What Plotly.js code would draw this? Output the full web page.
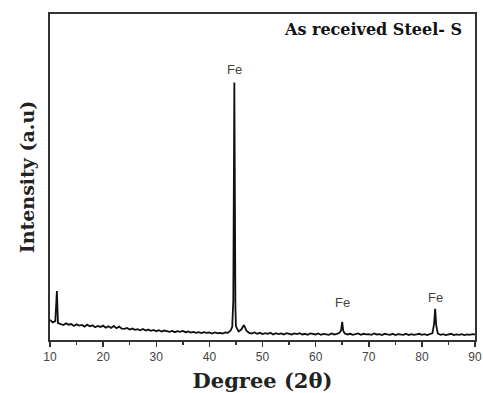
<!DOCTYPE html>
<html><head><meta charset="utf-8">
<script src="https://cdn.plot.ly/plotly-3.0.1.min.js"></script>
<style>body{margin:0;background:#fff}</style>
</head><body>
<div id="chart" style="width:483px;height:393px"></div>
<script>
const degree = [10,10.5,11,11.3,11.5,12,12.5,13,13.5,14,14.5,15,15.5,16,16.5,17,17.5,18,18.5,19,19.5,20,20.5,21,21.5,22,22.5,23,23.5,24,24.5,25,25.5,26,26.5,27,27.5,28,28.5,29,29.5,30,30.5,31,31.5,32,32.5,33,33.5,34,34.5,35,35.5,36,36.5,37,37.5,38,38.5,39,39.5,40,40.5,41,41.5,42,42.5,43,43.5,44,44.3,44.5,44.7,44.9,45,45.5,46,46.5,47,47.5,48,48.5,49,49.5,50,50.5,51,51.5,52,52.5,53,53.5,54,54.5,55,55.5,56,56.5,57,57.5,58,58.5,59,59.5,60,60.5,61,61.5,62,62.5,63,63.5,64,64.5,64.8,65,65.2,65.5,66,66.5,67,67.5,68,68.5,69,69.5,70,70.5,71,71.5,72,72.5,73,73.5,74,74.5,75,75.5,76,76.5,77,77.5,78,78.5,79,79.5,80,80.5,81,81.5,82,82.3,82.5,82.7,83,83.5,84,84.5,85,85.5,86,86.5,87,87.5,88,88.5,89,89.5,90];
const intensity = [6.2,5.4,5.8,15.0,5.2,5.0,4.6,5.1,4.7,4.9,4.3,4.8,4.4,4.6,4.1,4.7,4.2,4.5,3.9,4.3,4.0,4.4,3.8,4.2,3.7,4.3,3.6,4.1,3.5,3.4,3.7,3.2,3.5,3.1,3.3,3.0,3.4,2.9,3.2,2.8,3.1,2.7,3.0,2.6,2.9,2.7,2.5,2.8,2.4,2.7,2.5,2.8,2.4,2.6,2.3,2.5,2.2,2.4,2.1,2.4,2.2,2.3,2.0,2.3,2.1,2.2,2.0,2.3,2.2,2.9,4.0,12.0,79.0,10.0,4.2,2.6,3.2,4.6,2.8,2.2,2.0,2.3,1.9,2.2,1.8,2.1,1.9,2.2,1.7,2.1,1.8,2.0,1.7,2.1,1.9,1.7,2.0,1.8,2.1,1.7,1.9,1.6,2.0,1.8,1.7,2.0,1.6,1.9,1.8,1.6,2.0,1.7,1.9,2.2,3.0,5.6,2.8,2.0,1.7,1.9,1.6,1.8,2.0,1.6,1.9,1.7,1.8,1.6,2.0,1.7,1.8,1.5,1.9,1.7,1.6,1.9,1.5,1.8,1.7,1.6,1.9,1.5,1.8,1.6,1.7,1.9,1.6,1.8,1.5,1.7,2.1,5.0,9.6,4.5,2.0,1.6,1.8,1.5,1.7,1.9,1.5,1.7,1.6,1.8,1.5,1.7,1.6,1.8,1.7];
const peakX = [44.7, 65.0, 82.5];
const peakLabelY = [83, 11.5, 13];
const peakLabels = ["Fe", "Fe", "Fe"];
const sampleLabel = "As received Steel- S";

const serif = 'DejaVu Serif, serif';
const annotations = peakX.map((x, i) => ({
  x: x, y: peakLabelY[i], xref: 'x', yref: 'y', text: peakLabels[i], showarrow: false,
  font: {family: 'Liberation Sans, Arial, sans-serif', size: 13, color: '#444'}
}));
annotations.push({
  x: 0.975, y: 0.953, xref: 'paper', yref: 'paper', xanchor: 'right', yanchor: 'middle',
  text: '<b>' + sampleLabel + '</b>', showarrow: false,
  font: {family: serif, size: 16, color: '#111'}
});

Plotly.newPlot('chart', [{
  x: degree, y: intensity, type: 'scatter', mode: 'lines',
  line: {color: '#111', width: 1.8}, hoverinfo: 'skip'
}], {
  width: 483, height: 393,
  margin: {l: 50, r: 8, t: 14, b: 53},
  paper_bgcolor: '#fff', plot_bgcolor: '#fff',
  showlegend: false,
  xaxis: {
    range: [10, 90], dtick: 10, tick0: 10, ticks: 'outside', ticklen: 5, tickwidth: 1.5, tickcolor: '#333',
    minor: {dtick: 5, ticks: 'outside', ticklen: 3, tickcolor: '#333', tickwidth: 1.5},
    showline: true, linecolor: '#333', linewidth: 2, mirror: true, showgrid: false, zeroline: false,
    tickfont: {family: 'Liberation Sans, Arial, sans-serif', size: 12, color: '#444'},
    title: {text: '<b>Degree (2θ)</b>', standoff: 11, font: {family: serif, size: 21, color: '#222'}}
  },
  yaxis: {
    range: [0, 100], showticklabels: false, ticks: '', showgrid: false, zeroline: false,
    showline: true, linecolor: '#333', linewidth: 2, mirror: true,
    title: {text: '<b>Intensity (a.u)</b>', standoff: 8, font: {family: serif, size: 19, color: '#222'}}
  },
  annotations: annotations
}, {staticPlot: true});
</script>
</body></html>
